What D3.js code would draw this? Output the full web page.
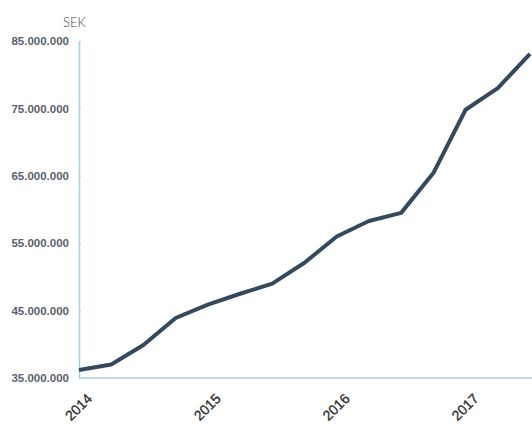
<!DOCTYPE html>
<html><head><meta charset="utf-8">
<script src="https://cdn.jsdelivr.net/npm/d3@7"></script>
<style>
body{margin:0;background:#fff;}
</style></head>
<body><svg id="c" width="532" height="424"></svg>
<script>
const quarters = ["2014-Q1","2014-Q2","2014-Q3","2014-Q4","2015-Q1","2015-Q2","2015-Q3","2015-Q4","2016-Q1","2016-Q2","2016-Q3","2016-Q4","2017-Q1","2017-Q2","2017-Q3"];
const values = [36.2,37.0,39.9,43.9,45.9,47.5,49.0,52.1,56.0,58.3,59.5,65.4,74.8,78.0,83.1]; // millions SEK
const yTicks = [35,45,55,65,75,85];
const yearLabels = ["2014","2015","2016","2017"];

const svg = d3.select("#c");
const m = {l:79, t:41, r:532, b:378};
const x = d3.scalePoint().domain(quarters).range([m.l, 530]);
const y = d3.scaleLinear().domain([35,85]).range([m.b, m.t]);
const fmt = v => d3.format(",")(v*1e6).replace(/,/g,".");

svg.append("text").attr("x",63).attr("y",27).text("SEK")
  .attr("font-family","Lato, 'Open Sans', sans-serif").attr("font-weight",300)
  .attr("font-size",13).attr("fill","#444");

// y axis
const ya = svg.append("g").attr("transform",`translate(${m.l},0)`)
  .call(d3.axisLeft(y).tickValues(yTicks).tickFormat(fmt).tickSize(0).tickPadding(10));
ya.select(".domain").attr("stroke","#a9d0e0").attr("stroke-width",1.5);
ya.selectAll("text").attr("font-family","'Liberation Sans Narrow','Arial Narrow',sans-serif")
  .attr("font-weight","bold").attr("font-size",11.5).attr("fill","#5a5f6b");
ya.selectAll(".tick").append("line").attr("x1",0).attr("x2",2).attr("stroke","#a9d0e0");

// x axis
const xa = svg.append("g").attr("transform",`translate(0,${m.b})`)
  .call(d3.axisBottom(x).tickValues(yearLabels.map(yy=>yy+"-Q1")).tickFormat(d=>d.slice(0,4)).tickSize(0));
xa.select(".domain").attr("d",`M${m.l},0H${m.r}`).attr("stroke","#a9d0e0").attr("stroke-width",1.5);
xa.selectAll("text")
  .attr("font-family","'Liberation Sans','Arial',sans-serif").attr("font-size",14).attr("fill","#2b2b2b")
  .attr("stroke","#2b2b2b").attr("stroke-width",0.3)
  .attr("text-anchor","end").attr("y",0)
  .attr("transform","translate(6,14) rotate(-45)").attr("dy","0.75em");

// line
svg.append("path").datum(values)
  .attr("fill","none").attr("stroke","#34495c").attr("stroke-width",4).attr("stroke-linejoin","round")
  .attr("d", d3.line().x((d,i)=>x(quarters[i])).y(d=>y(d)));
</script></body></html>
